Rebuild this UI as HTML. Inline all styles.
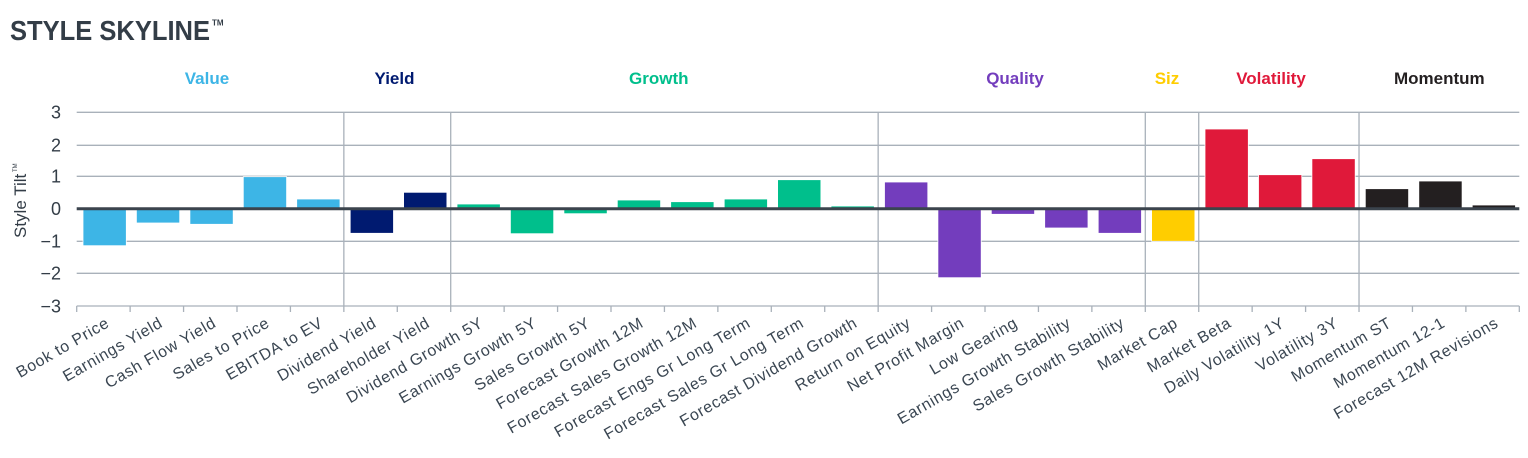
<!DOCTYPE html>
<html>
<head>
<meta charset="utf-8">
<style>
  html,body{margin:0;padding:0;background:#fff;}
  body{width:1528px;height:458px;overflow:hidden;}
  svg{display:block;}
  text{font-family:"Liberation Sans",sans-serif;}
</style>
</head>
<body>
<svg width="1528" height="458" viewBox="0 0 1528 458" xmlns="http://www.w3.org/2000/svg">
  <!-- Title -->
  <text x="10" y="40" font-size="28" font-weight="bold" fill="#333d47" textLength="200" lengthAdjust="spacingAndGlyphs">STYLE SKYLINE</text>
  <text x="212" y="25.5" font-size="8" font-weight="bold" fill="#333d47">TM</text>

  <!-- Group labels -->
  <g font-size="17" font-weight="bold" text-anchor="middle">
    <text x="207" y="84" fill="#3db5e6">Value</text>
    <text x="394.5" y="84" fill="#001a70">Yield</text>
    <text x="658.8" y="84" fill="#00bf8c">Growth</text>
    <text x="1015" y="84" fill="#733dbd">Quality</text>
    <text x="1167" y="84" fill="#ffcd00">Siz</text>
    <text x="1271" y="84" fill="#e0193a">Volatility</text>
    <text x="1439.3" y="84" fill="#231f20">Momentum</text>
  </g>

  <!-- Horizontal gridlines -->
  <g stroke="#a9b1ba" stroke-width="1.3">
    <line x1="76.7" y1="112.3" x2="1519.3" y2="112.3"/>
    <line x1="76.7" y1="145.3" x2="1519.3" y2="145.3"/>
    <line x1="76.7" y1="176.3" x2="1519.3" y2="176.3"/>
    <line x1="76.7" y1="241.3" x2="1519.3" y2="241.3"/>
    <line x1="76.7" y1="273.3" x2="1519.3" y2="273.3"/>
    <line x1="76.7" y1="306" x2="1519.3" y2="306"/>
  </g>

  <!-- Group vertical lines -->
  <g stroke="#a9b1ba" stroke-width="1.3">
    <line x1="343.85" y1="112" x2="343.85" y2="312"/>
    <line x1="450.71" y1="112" x2="450.71" y2="312"/>
    <line x1="878.15" y1="112" x2="878.15" y2="312"/>
    <line x1="1145.3" y1="112" x2="1145.3" y2="312"/>
    <line x1="1198.73" y1="112" x2="1198.73" y2="312"/>
    <line x1="1359.02" y1="112" x2="1359.02" y2="312"/>
  </g>

  <!-- Category ticks -->
  <g stroke="#a9b1ba" stroke-width="1.3">
    <line x1="76.7" y1="306" x2="76.7" y2="312"/>
    <line x1="130.13" y1="306" x2="130.13" y2="312"/>
    <line x1="183.56" y1="306" x2="183.56" y2="312"/>
    <line x1="236.99" y1="306" x2="236.99" y2="312"/>
    <line x1="290.42" y1="306" x2="290.42" y2="312"/>
    <line x1="397.28" y1="306" x2="397.28" y2="312"/>
    <line x1="504.14" y1="306" x2="504.14" y2="312"/>
    <line x1="557.57" y1="306" x2="557.57" y2="312"/>
    <line x1="611.0" y1="306" x2="611.0" y2="312"/>
    <line x1="664.43" y1="306" x2="664.43" y2="312"/>
    <line x1="717.86" y1="306" x2="717.86" y2="312"/>
    <line x1="771.29" y1="306" x2="771.29" y2="312"/>
    <line x1="824.72" y1="306" x2="824.72" y2="312"/>
    <line x1="931.58" y1="306" x2="931.58" y2="312"/>
    <line x1="985.01" y1="306" x2="985.01" y2="312"/>
    <line x1="1038.44" y1="306" x2="1038.44" y2="312"/>
    <line x1="1091.87" y1="306" x2="1091.87" y2="312"/>
    <line x1="1252.16" y1="306" x2="1252.16" y2="312"/>
    <line x1="1305.59" y1="306" x2="1305.59" y2="312"/>
    <line x1="1412.45" y1="306" x2="1412.45" y2="312"/>
    <line x1="1465.88" y1="306" x2="1465.88" y2="312"/>
    <line x1="1519.31" y1="306" x2="1519.31" y2="312"/>
  </g>

  <!-- Bars -->
  <g stroke="#ffffff" stroke-width="0.8">
    <!-- Value -->
    <rect x="83.0" y="208.7" width="43.3" height="37" fill="#3db5e6"/>
    <rect x="136.4" y="208.7" width="43.3" height="14.3" fill="#3db5e6"/>
    <rect x="189.9" y="208.7" width="43.3" height="15.6" fill="#3db5e6"/>
    <rect x="243.3" y="176.7" width="43.3" height="32" fill="#3db5e6"/>
    <rect x="296.7" y="199" width="43.3" height="9.7" fill="#3db5e6"/>
    <!-- Yield -->
    <rect x="350.2" y="208.7" width="43.3" height="24.6" fill="#001a70"/>
    <rect x="403.6" y="192.3" width="43.3" height="16.4" fill="#001a70"/>
    <!-- Growth -->
    <rect x="457.0" y="204" width="43.3" height="4.7" fill="#00bf8c"/>
    <rect x="510.4" y="208.7" width="43.3" height="25" fill="#00bf8c"/>
    <rect x="563.9" y="208.7" width="43.3" height="5" fill="#00bf8c"/>
    <rect x="617.3" y="200" width="43.3" height="8.7" fill="#00bf8c"/>
    <rect x="670.7" y="201.7" width="43.3" height="7" fill="#00bf8c"/>
    <rect x="724.2" y="199" width="43.3" height="9.7" fill="#00bf8c"/>
    <rect x="777.6" y="179.7" width="43.3" height="29" fill="#00bf8c"/>
    <rect x="831.0" y="206" width="43.3" height="2.7" fill="#00bf8c"/>
    <!-- Quality -->
    <rect x="884.5" y="182" width="43.3" height="26.7" fill="#733dbd"/>
    <rect x="937.9" y="208.7" width="43.3" height="69" fill="#733dbd"/>
    <rect x="991.3" y="208.7" width="43.3" height="5.6" fill="#733dbd"/>
    <rect x="1044.7" y="208.7" width="43.3" height="19.3" fill="#733dbd"/>
    <rect x="1098.2" y="208.7" width="43.3" height="24.6" fill="#733dbd"/>
    <!-- Size -->
    <rect x="1151.6" y="208.7" width="43.3" height="32.6" fill="#ffcd00"/>
    <!-- Volatility -->
    <rect x="1205.0" y="129" width="43.3" height="79.7" fill="#e0193a"/>
    <rect x="1258.5" y="174.7" width="43.3" height="34" fill="#e0193a"/>
    <rect x="1311.9" y="158.7" width="43.3" height="50" fill="#e0193a"/>
    <!-- Momentum -->
    <rect x="1365.3" y="188.7" width="43.3" height="20" fill="#231f20"/>
    <rect x="1418.8" y="181" width="43.3" height="27.7" fill="#231f20"/>
    <rect x="1472.2" y="205" width="43.3" height="3.7" fill="#231f20"/>
  </g>

  <!-- Zero line -->
  <line x1="76.7" y1="208.7" x2="1519.3" y2="208.7" stroke="#3b444d" stroke-width="3"/>

  <!-- Y tick labels -->
  <g font-size="18" fill="#333d47" text-anchor="end">
    <text x="61" y="118.7">3</text>
    <text x="61" y="151.7">2</text>
    <text x="61" y="182.7">1</text>
    <text x="61" y="215.1">0</text>
    <text x="61" y="247.7">−1</text>
    <text x="61" y="279.7">−2</text>
    <text x="61" y="312.4">−3</text>
  </g>

  <!-- Y axis title -->
  <g transform="translate(26,203) rotate(-90)" fill="#333d47">
    <text x="-35" y="0" font-size="17">Style Tilt</text>
    <text x="31" y="-9" font-size="6">TM</text>
  </g>

  <!-- X labels -->
  <g font-size="16" fill="#3a4652" text-anchor="end" letter-spacing="0.7">
    <text transform="translate(110.4,326) rotate(-30)">Book to Price</text>
    <text transform="translate(163.8,326) rotate(-30)">Earnings Yield</text>
    <text transform="translate(217.3,326) rotate(-30)">Cash Flow Yield</text>
    <text transform="translate(270.7,326) rotate(-30)">Sales to Price</text>
    <text transform="translate(324.1,326) rotate(-30)">EBITDA to EV</text>
    <text transform="translate(377.6,326) rotate(-30)">Dividend Yield</text>
    <text transform="translate(431.0,326) rotate(-30)">Shareholder Yield</text>
    <text transform="translate(484.4,326) rotate(-30)">Dividend Growth 5Y</text>
    <text transform="translate(537.8,326) rotate(-30)">Earnings Growth 5Y</text>
    <text transform="translate(591.3,326) rotate(-30)">Sales Growth 5Y</text>
    <text transform="translate(644.7,326) rotate(-30)">Forecast Growth 12M</text>
    <text transform="translate(698.1,326) rotate(-30)">Forecast Sales Growth 12M</text>
    <text transform="translate(751.6,326) rotate(-30)">Forecast Engs Gr Long Term</text>
    <text transform="translate(805.0,326) rotate(-30)">Forecast Sales Gr Long Term</text>
    <text transform="translate(858.4,326) rotate(-30)">Forecast Dividend Growth</text>
    <text transform="translate(911.9,326) rotate(-30)">Return on Equity</text>
    <text transform="translate(965.3,326) rotate(-30)">Net Profit Margin</text>
    <text transform="translate(1018.7,326) rotate(-30)">Low Gearing</text>
    <text transform="translate(1072.1,326) rotate(-30)">Earnings Growth Stability</text>
    <text transform="translate(1125.6,326) rotate(-30)">Sales Growth Stability</text>
    <text transform="translate(1179.0,326) rotate(-30)">Market Cap</text>
    <text transform="translate(1232.4,326) rotate(-30)">Market Beta</text>
    <text transform="translate(1285.9,326) rotate(-30)">Daily Volatility 1Y</text>
    <text transform="translate(1339.3,326) rotate(-30)">Volatility 3Y</text>
    <text transform="translate(1392.7,326) rotate(-30)">Momentum ST</text>
    <text transform="translate(1446.2,326) rotate(-30)">Momentum 12-1</text>
    <text transform="translate(1499.6,326) rotate(-30)">Forecast 12M Revisions</text>
  </g>
</svg>
</body>
</html>
